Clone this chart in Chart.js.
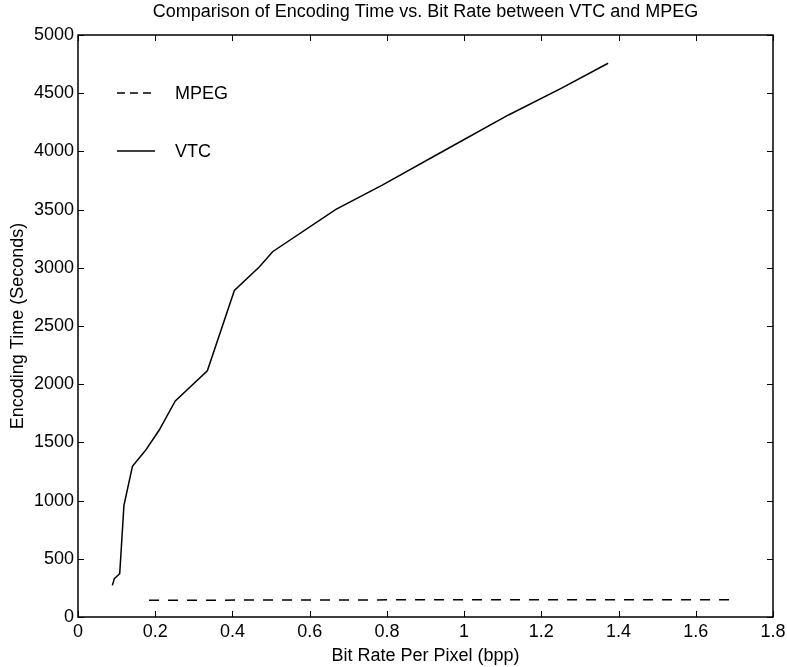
<!DOCTYPE html>
<html>
<head>
<meta charset="utf-8">
<script src="https://cdn.jsdelivr.net/npm/chart.js@4"></script>
<style>
  html, body { margin: 0; padding: 0; background: #fff; }
  #wrap { width: 787px; height: 667px; }
</style>
</head>
<body>
<div id="wrap"><canvas id="chart" width="787" height="667"></canvas></div>
<script>
// data
const vtcRate = [0.089, 0.094, 0.108, 0.119, 0.141, 0.175, 0.21, 0.252, 0.335, 0.405, 0.47, 0.504, 0.668, 0.788, 0.95, 1.115, 1.25, 1.373];
const vtcTime = [272, 329, 372, 960, 1295, 1432, 1604, 1857, 2115, 2805, 3009, 3138, 3502, 3711, 4010, 4313, 4540, 4757];
const mpegRate = [0.184, 0.5, 1.0, 1.4, 1.7];
const mpegTime = [143, 146, 148, 149, 149];
const xTicks = [0, 0.2, 0.4, 0.6, 0.8, 1, 1.2, 1.4, 1.6, 1.8];
const yTicks = [0, 500, 1000, 1500, 2000, 2500, 3000, 3500, 4000, 4500, 5000];
const seriesNames = ['MPEG', 'VTC'];

const FONT = '"Liberation Sans", Arial, Helvetica, sans-serif';
const SIZE = 18;
const pts = (xs, ys) => xs.map((v, i) => ({ x: v, y: ys[i] }));

// MATLAB style box with inward ticks, plus legend inside the axes
const boxPlugin = {
  id: 'box',
  afterDraw(chart) {
    const { ctx, chartArea: a, scales: { x, y } } = chart;
    ctx.save();
    ctx.strokeStyle = '#000';
    ctx.lineWidth = 1.5;
    ctx.strokeRect(a.left, a.top, a.right - a.left, a.bottom - a.top);
    ctx.lineWidth = 1;
    const len = 6;
    x.ticks.forEach(t => {
      const px = Math.round(x.getPixelForValue(t.value)) + 0.5;
      ctx.beginPath();
      ctx.moveTo(px, a.bottom); ctx.lineTo(px, a.bottom - len);
      ctx.moveTo(px, a.top); ctx.lineTo(px, a.top + len);
      ctx.stroke();
    });
    y.ticks.forEach(t => {
      const py = Math.round(y.getPixelForValue(t.value)) + 0.5;
      ctx.beginPath();
      ctx.moveTo(a.left, py); ctx.lineTo(a.left + len, py);
      ctx.moveTo(a.right, py); ctx.lineTo(a.right - len, py);
      ctx.stroke();
    });
    // legend
    const lx = a.left + 39, lw = 38, tx = a.left + 97;
    const rows = [{ y: a.top + 58, dash: [8, 5] }, { y: a.top + 116, dash: [] }];
    ctx.font = SIZE + 'px ' + FONT;
    ctx.fillStyle = '#000';
    ctx.textBaseline = 'middle';
    rows.forEach((r, i) => {
      ctx.lineWidth = 1.5;
      ctx.setLineDash(r.dash);
      ctx.beginPath();
      ctx.moveTo(lx, r.y); ctx.lineTo(lx + lw, r.y);
      ctx.stroke();
      ctx.setLineDash([]);
      ctx.fillText(seriesNames[i], tx, r.y + 1);
    });
    ctx.restore();
  }
};

new Chart(document.getElementById('chart'), {
  type: 'line',
  data: {
    datasets: [
      {
        label: seriesNames[0],
        data: pts(mpegRate, mpegTime),
        borderColor: '#000',
        borderWidth: 1.5,
        borderDash: [10, 9],
        pointRadius: 0,
        fill: false,
        tension: 0
      },
      {
        label: seriesNames[1],
        data: pts(vtcRate, vtcTime),
        borderColor: '#000',
        borderWidth: 1.5,
        pointRadius: 0,
        fill: false,
        tension: 0
      }
    ]
  },
  options: {
    responsive: false,
    animation: false,
    layout: { padding: { left: 0, right: 14, top: 0, bottom: 0 } },
    plugins: {
      legend: { display: false },
      tooltip: { enabled: false },
      title: {
        display: true,
        fullSize: false,
        text: 'Comparison of Encoding Time vs. Bit Rate between VTC and MPEG',
        color: '#000',
        font: { family: FONT, size: SIZE, weight: 'normal' },
        padding: { top: 1, bottom: 12.4 }
      }
    },
    scales: {
      x: {
        type: 'linear',
        min: 0,
        max: 1.8,
        afterBuildTicks: s => { s.ticks = xTicks.map(v => ({ value: v })); },
        afterFit: s => { s.height = 50; s.paddingRight = 0; s.paddingLeft = 0; },
        grid: { display: false, drawTicks: false },
        border: { display: false },
        ticks: {
          color: '#000',
          padding: 4,
          maxRotation: 0,
          autoSkip: false,
          font: { family: FONT, size: SIZE },
          callback: v => String(Number(v.toFixed(1)))
        },
        title: {
          display: true,
          text: 'Bit Rate Per Pixel (bpp)',
          color: '#000',
          font: { family: FONT, size: SIZE },
          padding: { top: 0, bottom: 0 }
        }
      },
      y: {
        min: 0,
        max: 5000,
        afterBuildTicks: s => { s.ticks = yTicks.map(v => ({ value: v })); },
        afterFit: s => { s.width = 78; s.paddingTop = 0; s.paddingBottom = 0; },
        grid: { display: false, drawTicks: false },
        border: { display: false },
        ticks: {
          color: '#000',
          padding: 4,
          autoSkip: false,
          font: { family: FONT, size: SIZE },
          callback: v => String(v)
        },
        title: {
          display: true,
          text: 'Encoding Time (Seconds)',
          color: '#000',
          font: { family: FONT, size: SIZE },
          padding: { top: 7, bottom: 0 }
        }
      }
    }
  },
  plugins: [boxPlugin]
});
</script>
</body>
</html>
